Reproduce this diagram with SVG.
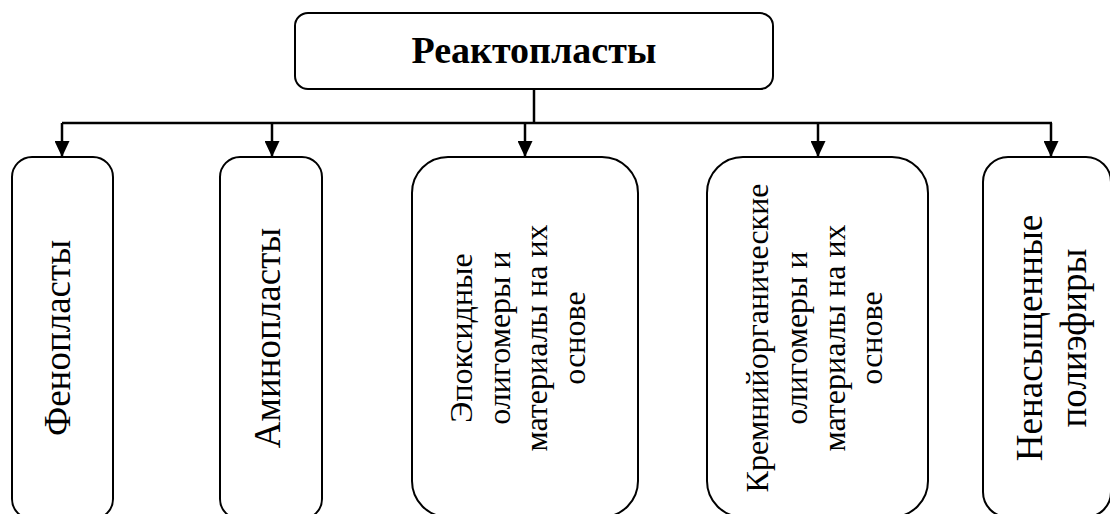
<svg xmlns="http://www.w3.org/2000/svg" width="1110" height="514" viewBox="0 0 1110 514">
<style>
.box{fill:#fff;stroke:#000;stroke-width:2}
.t{font-family:"Liberation Serif","Tinos","Times New Roman","DejaVu Serif",serif;fill:#000;text-anchor:middle}
.big{font-size:37px}
.sm{font-size:32px}
.title{font-size:38px;font-weight:bold}
.ln{fill:none;stroke:#000;stroke-width:2.5}
</style>
<defs>
<marker id="ah" viewBox="0 0 16 15" refX="16" refY="7.5" markerWidth="16" markerHeight="15" markerUnits="userSpaceOnUse" orient="auto">
<path d="M0,0 L16,7.5 L0,15 Z" fill="#000"/>
</marker>
</defs>
<rect width="1110" height="514" fill="#fff"/>
<g id="connectors">
<line class="ln" x1="534" y1="89" x2="534" y2="123"/>
<line class="ln" x1="62" y1="123" x2="1052" y2="123"/>
<line class="ln" x1="62" y1="123" x2="62" y2="157" marker-end="url(#ah)"/>
<line class="ln" x1="272" y1="123" x2="272" y2="157" marker-end="url(#ah)"/>
<line class="ln" x1="525" y1="123" x2="525" y2="157" marker-end="url(#ah)"/>
<line class="ln" x1="818" y1="123" x2="818" y2="157" marker-end="url(#ah)"/>
<line class="ln" x1="1051" y1="123" x2="1051" y2="157" marker-end="url(#ah)"/>
</g>
<g id="root">
<rect class="box" x="295" y="13" width="478" height="76" rx="13"/>
<text class="t title" x="534" y="63">Реактопласты</text>
</g>
<g id="fenoplasty">
<rect class="box" x="12" y="157" width="101" height="362" rx="20"/>
<text class="t big" transform="translate(70,338) rotate(-90)">Фенопласты</text>
</g>
<g id="aminoplasty">
<rect class="box" x="220" y="157" width="102" height="362" rx="20"/>
<text class="t big" transform="translate(280,338) rotate(-90)">Аминопласты</text>
</g>
<g id="epoxy">
<rect class="box" x="412" y="157" width="226" height="360" rx="36"/>
<text class="t sm" transform="translate(472,338) rotate(-90)">Эпоксидные</text>
<text class="t sm" transform="translate(510,338) rotate(-90)">олигомеры и</text>
<text class="t sm" transform="translate(547,338) rotate(-90)">материалы на их</text>
<text class="t sm" transform="translate(585,338) rotate(-90)">основе</text>
</g>
<g id="silicon">
<rect class="box" x="707" y="157" width="221" height="360" rx="36"/>
<text class="t sm" transform="translate(768,338) rotate(-90)">Кремнийорганические</text>
<text class="t sm" transform="translate(807,338) rotate(-90)">олигомеры и</text>
<text class="t sm" transform="translate(845,338) rotate(-90)">материалы на их</text>
<text class="t sm" transform="translate(882,338) rotate(-90)">основе</text>
</g>
<g id="polyesters">
<rect class="box" x="983" y="157" width="128" height="360" rx="25"/>
<text class="t big" transform="translate(1042,338) rotate(-90)">Ненасыщенные</text>
<text class="t big" transform="translate(1086,338) rotate(-90)">полиэфиры</text>
</g>
</svg>
